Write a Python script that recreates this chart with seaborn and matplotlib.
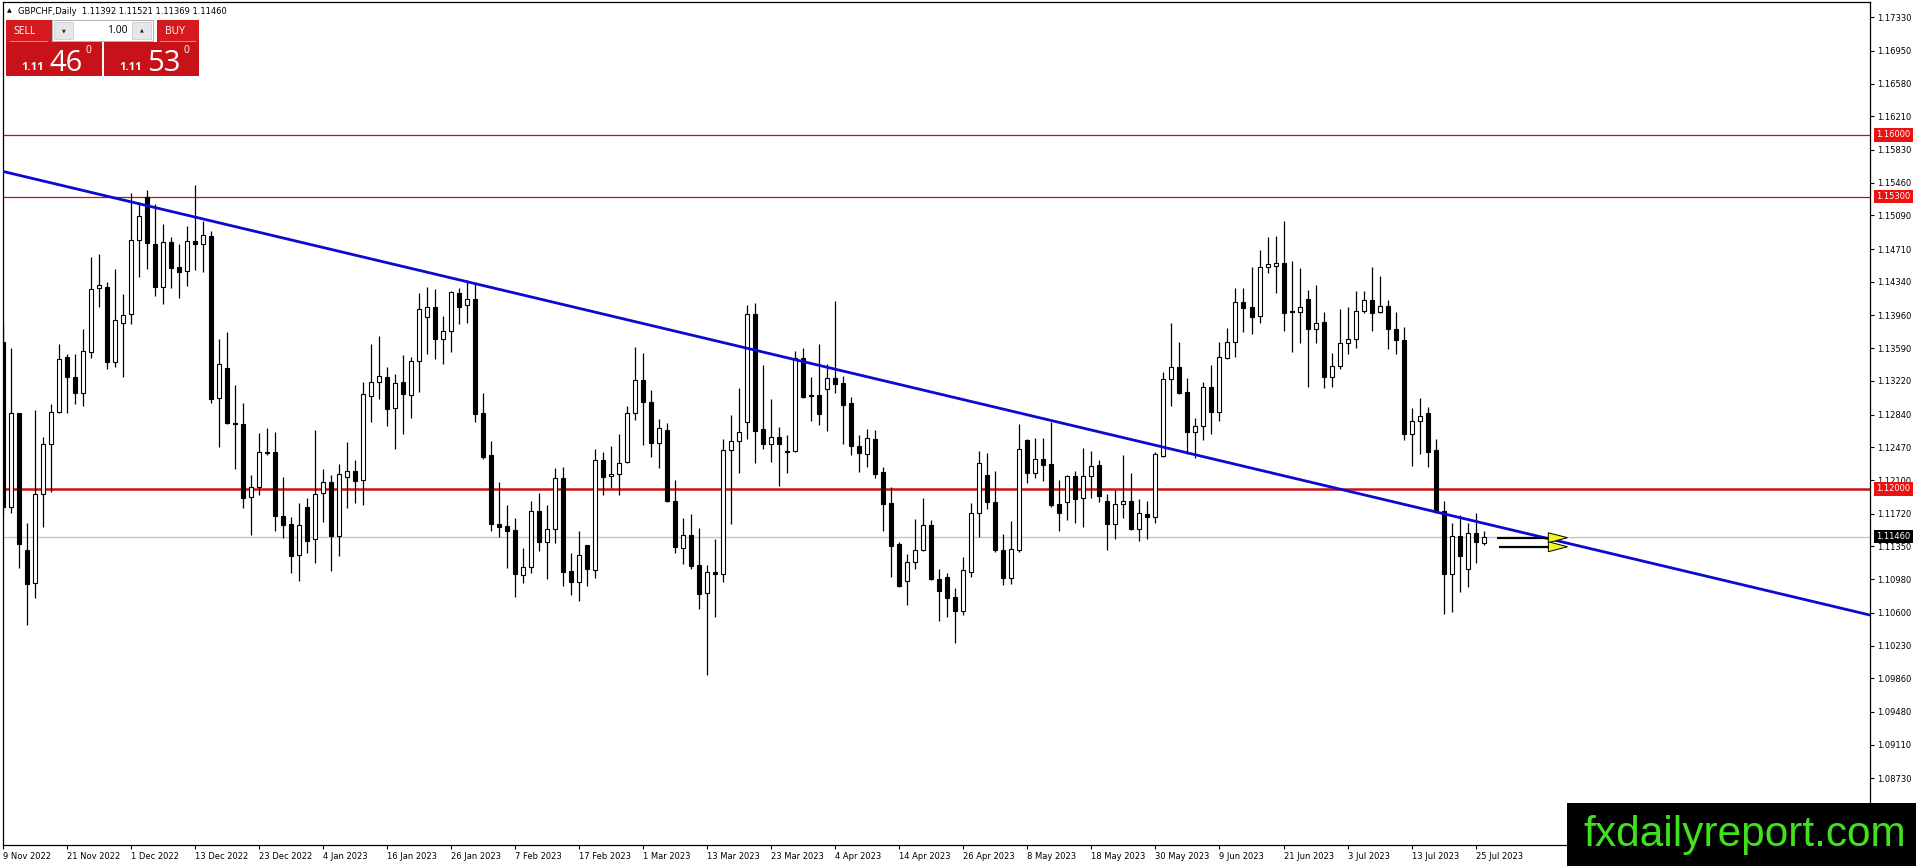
import numpy as np
import pandas as pd
import seaborn as sns
import matplotlib
matplotlib.use("Agg")
import matplotlib.pyplot as plt
from matplotlib.patches import Rectangle, Polygon
import matplotlib.transforms as mtransforms

# GBPCHF daily candles, 9 Nov 2022 .. 26 Jul 2023
opens = [
    1.1366, 1.1180, 1.1286, 1.1131, 1.1094, 1.1194, 1.1251, 1.1287, 1.1349, 1.1327,
    1.1308, 1.1355, 1.1427, 1.1428, 1.1343, 1.1388, 1.1398, 1.1481, 1.1530, 1.1477,
    1.1428, 1.1479, 1.1451, 1.1446, 1.1480, 1.1477, 1.1486, 1.1303, 1.1337, 1.1275,
    1.1273, 1.1191, 1.1202, 1.1242, 1.1242, 1.1169, 1.1160, 1.1125, 1.1180, 1.1143,
    1.1195, 1.1208, 1.1147, 1.1214, 1.1220, 1.1210, 1.1305, 1.1321, 1.1327, 1.1291,
    1.1321, 1.1306, 1.1345, 1.1394, 1.1406, 1.1369, 1.1378, 1.1421, 1.1408, 1.1415,
    1.1286, 1.1238, 1.1160, 1.1158, 1.1154, 1.1103, 1.1112, 1.1175, 1.1140, 1.1155,
    1.1212, 1.1107, 1.1095, 1.1137, 1.1108, 1.1233, 1.1215, 1.1217, 1.1230, 1.1286,
    1.1323, 1.1298, 1.1252, 1.1267, 1.1186, 1.1133, 1.1148, 1.1114, 1.1082, 1.1106,
    1.1104, 1.1244, 1.1254, 1.1276, 1.1398, 1.1268, 1.1251, 1.1259, 1.1243, 1.1243,
    1.1348, 1.1306, 1.1306, 1.1313, 1.1325, 1.1320, 1.1297, 1.1248, 1.1240, 1.1257,
    1.1219, 1.1184, 1.1138, 1.1096, 1.1117, 1.1131, 1.1159, 1.1098, 1.1100, 1.1078,
    1.1062, 1.1106, 1.1173, 1.1216, 1.1185, 1.1131, 1.1099, 1.1131, 1.1255, 1.1218,
    1.1234, 1.1228, 1.1183, 1.1185, 1.1215, 1.1190, 1.1215, 1.1227, 1.1186, 1.1160,
    1.1183, 1.1186, 1.1155, 1.1172, 1.1168, 1.1237, 1.1324, 1.1338, 1.1309, 1.1264,
    1.1271, 1.1315, 1.1287, 1.1348, 1.1366, 1.1411, 1.1406, 1.1395, 1.1451, 1.1452,
    1.1455, 1.1401, 1.1400, 1.1415, 1.1381, 1.1389, 1.1327, 1.1339, 1.1365, 1.1369,
    1.1401, 1.1414, 1.1400, 1.1407, 1.1381, 1.1368, 1.1262, 1.1277, 1.1286, 1.1244,
    1.1175, 1.1104, 1.1147, 1.1110, 1.1150, 1.11392,
]
highs = [
    1.1390, 1.1359, 1.1279, 1.1162, 1.1289, 1.1259, 1.1296, 1.1364, 1.1353, 1.1353,
    1.1381, 1.1462, 1.1466, 1.1434, 1.1449, 1.1420, 1.1534, 1.1524, 1.1538, 1.1522,
    1.1499, 1.1485, 1.1477, 1.1497, 1.1543, 1.1503, 1.1492, 1.1369, 1.1377, 1.1317,
    1.1297, 1.1216, 1.1263, 1.1269, 1.1264, 1.1214, 1.1168, 1.1184, 1.1190, 1.1267,
    1.1223, 1.1216, 1.1228, 1.1253, 1.1233, 1.1321, 1.1364, 1.1373, 1.1338, 1.1330,
    1.1351, 1.1349, 1.1421, 1.1428, 1.1426, 1.1395, 1.1424, 1.1427, 1.1436, 1.1433,
    1.1308, 1.1254, 1.1208, 1.1182, 1.1167, 1.1133, 1.1186, 1.1195, 1.1182, 1.1224,
    1.1225, 1.1128, 1.1152, 1.1137, 1.1245, 1.1242, 1.1249, 1.1262, 1.1294, 1.1360,
    1.1354, 1.1312, 1.1279, 1.1274, 1.1210, 1.1167, 1.1172, 1.1156, 1.1114, 1.1143,
    1.1256, 1.1283, 1.1314, 1.1408, 1.1410, 1.1340, 1.1302, 1.1270, 1.1261, 1.1356,
    1.1359, 1.1327, 1.1364, 1.1341, 1.1412, 1.1328, 1.1304, 1.1261, 1.1268, 1.1267,
    1.1225, 1.1202, 1.1140, 1.1127, 1.1166, 1.1190, 1.1165, 1.1110, 1.1105, 1.1088,
    1.1123, 1.1184, 1.1243, 1.1241, 1.1220, 1.1149, 1.1164, 1.1273, 1.1256, 1.1258,
    1.1258, 1.1276, 1.1210, 1.1216, 1.1220, 1.1246, 1.1243, 1.1233, 1.1194, 1.1199,
    1.1238, 1.1218, 1.1189, 1.1186, 1.1242, 1.1332, 1.1388, 1.1366, 1.1325, 1.1280,
    1.1321, 1.1340, 1.1366, 1.1382, 1.1427, 1.1427, 1.1451, 1.1470, 1.1485, 1.1486,
    1.1503, 1.1458, 1.1450, 1.1425, 1.1430, 1.1400, 1.1354, 1.1403, 1.1406, 1.1424,
    1.1424, 1.1451, 1.1441, 1.1414, 1.1400, 1.1383, 1.1292, 1.1303, 1.1293, 1.1256,
    1.1186, 1.1162, 1.1171, 1.1162, 1.1173, 1.11521,
]
lows = [
    1.1169, 1.1173, 1.1111, 1.1046, 1.1077, 1.1157, 1.1197, 1.1286, 1.1286, 1.1296,
    1.1294, 1.1348, 1.1406, 1.1336, 1.1338, 1.1327, 1.1386, 1.1440, 1.1449, 1.1418,
    1.1409, 1.1427, 1.1416, 1.1429, 1.1447, 1.1445, 1.1297, 1.1247, 1.1273, 1.1223,
    1.1179, 1.1148, 1.1193, 1.1238, 1.1152, 1.1145, 1.1105, 1.1096, 1.1128, 1.1116,
    1.1163, 1.1107, 1.1124, 1.1179, 1.1184, 1.1182, 1.1276, 1.1302, 1.1271, 1.1245,
    1.1262, 1.1280, 1.1310, 1.1353, 1.1347, 1.1341, 1.1355, 1.1386, 1.1388, 1.1276,
    1.1234, 1.1152, 1.1146, 1.1111, 1.1078, 1.1094, 1.1105, 1.1130, 1.1098, 1.1139,
    1.1090, 1.1080, 1.1073, 1.1090, 1.1099, 1.1193, 1.1201, 1.1193, 1.1229, 1.1278,
    1.1250, 1.1236, 1.1224, 1.1185, 1.1128, 1.1115, 1.1110, 1.1064, 1.0990, 1.1055,
    1.1095, 1.1160, 1.1218, 1.1256, 1.1229, 1.1245, 1.1230, 1.1203, 1.1218, 1.1242,
    1.1303, 1.1277, 1.1272, 1.1265, 1.1308, 1.1251, 1.1238, 1.1219, 1.1225, 1.1212,
    1.1153, 1.1100, 1.1089, 1.1069, 1.1110, 1.1130, 1.1097, 1.1051, 1.1055, 1.1026,
    1.1058, 1.1100, 1.1146, 1.1177, 1.1129, 1.1092, 1.1093, 1.1129, 1.1207, 1.1212,
    1.1209, 1.1180, 1.1153, 1.1165, 1.1162, 1.1157, 1.1190, 1.1185, 1.1131, 1.1143,
    1.1167, 1.1154, 1.1141, 1.1143, 1.1162, 1.1236, 1.1294, 1.1307, 1.1239, 1.1235,
    1.1255, 1.1262, 1.1277, 1.1347, 1.1349, 1.1377, 1.1375, 1.1388, 1.1444, 1.1421,
    1.1378, 1.1355, 1.1365, 1.1315, 1.1365, 1.1314, 1.1315, 1.1336, 1.1353, 1.1359,
    1.1399, 1.1378, 1.1399, 1.1358, 1.1353, 1.1255, 1.1226, 1.1239, 1.1225, 1.1173,
    1.1059, 1.1061, 1.1084, 1.1089, 1.1116, 1.11369,
]
closes = [
    1.1180, 1.1286, 1.1138, 1.1093, 1.1194, 1.1251, 1.1287, 1.1347, 1.1327, 1.1308,
    1.1356, 1.1426, 1.1430, 1.1343, 1.1391, 1.1397, 1.1481, 1.1508, 1.1478, 1.1428,
    1.1479, 1.1450, 1.1445, 1.1480, 1.1477, 1.1487, 1.1302, 1.1341, 1.1274, 1.1273,
    1.1190, 1.1202, 1.1242, 1.1241, 1.1169, 1.1159, 1.1124, 1.1159, 1.1141, 1.1194,
    1.1208, 1.1147, 1.1217, 1.1220, 1.1209, 1.1307, 1.1321, 1.1328, 1.1290, 1.1320,
    1.1307, 1.1345, 1.1403, 1.1406, 1.1369, 1.1378, 1.1423, 1.1406, 1.1415, 1.1285,
    1.1236, 1.1160, 1.1157, 1.1152, 1.1104, 1.1112, 1.1175, 1.1140, 1.1155, 1.1212,
    1.1106, 1.1095, 1.1125, 1.1110, 1.1233, 1.1214, 1.1217, 1.1229, 1.1286, 1.1323,
    1.1298, 1.1252, 1.1269, 1.1186, 1.1134, 1.1148, 1.1113, 1.1081, 1.1106, 1.1104,
    1.1244, 1.1254, 1.1264, 1.1398, 1.1265, 1.1251, 1.1259, 1.1251, 1.1242, 1.1348,
    1.1304, 1.1305, 1.1285, 1.1325, 1.1319, 1.1295, 1.1248, 1.1241, 1.1258, 1.1217,
    1.1183, 1.1135, 1.1090, 1.1117, 1.1131, 1.1159, 1.1098, 1.1085, 1.1077, 1.1062,
    1.1108, 1.1173, 1.1229, 1.1185, 1.1131, 1.1099, 1.1132, 1.1245, 1.1218, 1.1234,
    1.1227, 1.1182, 1.1173, 1.1215, 1.1189, 1.1215, 1.1226, 1.1192, 1.1160, 1.1183,
    1.1186, 1.1155, 1.1173, 1.1168, 1.1239, 1.1324, 1.1338, 1.1308, 1.1264, 1.1271,
    1.1315, 1.1287, 1.1349, 1.1366, 1.1411, 1.1404, 1.1394, 1.1451, 1.1454, 1.1455,
    1.1399, 1.1400, 1.1406, 1.1381, 1.1388, 1.1327, 1.1339, 1.1365, 1.1369, 1.1401,
    1.1414, 1.1399, 1.1407, 1.1381, 1.1368, 1.1262, 1.1277, 1.1282, 1.1242, 1.1174,
    1.1104, 1.1147, 1.1124, 1.1150, 1.1140, 1.11460,
]

# right price scale as printed by the terminal
price_ticks = [1.17330, 1.16950, 1.16580, 1.16210, 1.15830, 1.15460, 1.15090,
               1.14710, 1.14340, 1.13960, 1.13590, 1.13220, 1.12840, 1.12470,
               1.12100, 1.11720, 1.11350, 1.10980, 1.10600, 1.10230, 1.09860,
               1.09480, 1.09110, 1.08730]
levels = [1.16000, 1.15300, 1.12000]     # red horizontal lines
bid = 1.11460
# trendline anchors (bar index, price)
trend_pts = [(18, 1.1520), (180, 1.1172)]
# two arrows pointing right (bar from, bar to, price)
arrows = [(186.7, 195.5, 1.11449), (186.9, 195.5, 1.11347)]

header = "GBPCHF,Daily  1.11392 1.11521 1.11369 1.11460"
sell_px = ("1.11", "46", "0")
buy_px = ("1.11", "53", "0")

dates = pd.bdate_range("2022-11-09", periods=len(opens))
df = pd.DataFrame({"date": dates, "open": opens, "high": highs,
                   "low": lows, "close": closes})

sns.set_theme(style="white")
plt.rcParams["font.family"] = ["DejaVu Sans"]

W, H = 1916, 866
fig = plt.figure(figsize=(W / 100, H / 100), dpi=100)
fig.patch.set_facecolor("white")
ax = fig.add_axes([2.7 / W, 21 / H, 1867.3 / W, 843 / H])
ax.set_facecolor("white")

xlim = (-0.075, 233.3)
ax.set_xlim(*xlim)
ax.set_ylim(1.07977, 1.17502)

# horizontal levels
ax.axhline(levels[0], color="#c41010", lw=0.9, zorder=1)
ax.axhline(levels[1], color="#c41010", lw=0.9, zorder=1)
ax.axhline(levels[2], color="#cc1414", lw=1.8, zorder=1)
ax.axhline(bid, color="#c0c0c0", lw=0.9, zorder=1)

# candles
x = np.arange(len(df))
up = df["close"] >= df["open"]
ax.vlines(x, df["low"], df["high"], color="black", lw=0.9, zorder=2)
body_lo = df[["open", "close"]].min(axis=1)
body_h = (df["close"] - df["open"]).abs().clip(lower=0.00005)
ax.bar(x, body_h, bottom=body_lo, width=0.5,
       color=np.where(up, "white", "black"), edgecolor="black",
       linewidth=0.8, zorder=3)

# trendline extended across the chart
(x1, y1), (x2, y2) = trend_pts
slope = (y2 - y1) / (x2 - x1)
tx = np.array(xlim)
ty = y1 + slope * (tx - x1)
sns.lineplot(x=tx, y=ty, ax=ax, color="#0a0ad2", lw=2.0, zorder=4)

# arrows
for a0, a1, p in arrows:
    ax.plot([a0, a1 - 2.2], [p, p], color="black", lw=1.6, zorder=5,
            solid_capstyle="butt")
    tri = Polygon([[a1 - 2.4, p + 0.00056], [a1, p], [a1 - 2.4, p - 0.00056]],
                  closed=True, fc="#f5f51e", ec="black", lw=0.7, zorder=6)
    ax.add_patch(tri)

# axes styling
for s in ax.spines.values():
    s.set_color("black")
    s.set_linewidth(0.9)
ax.yaxis.tick_right()
ax.set_yticks(price_ticks)
ax.set_yticklabels([f"{v:.5f}" for v in price_ticks])
ax.tick_params(axis="y", direction="out", length=3, width=0.8, pad=2,
               labelsize=6, colors="black", right=True, left=False)
tick_idx = list(range(0, len(df), 8))
ax.set_xticks(tick_idx)
ax.set_xticklabels([f"{d.day} {d.strftime('%b %Y')}" for d in df["date"].iloc[tick_idx]],
                   ha="left")
ax.tick_params(axis="x", direction="out", length=3, width=0.8, pad=2,
               labelsize=6, colors="black", bottom=True)
ax.grid(False)

# price tags on the right scale
trans = mtransforms.blended_transform_factory(ax.transAxes, ax.transData)
for lv in levels:
    ax.text(1.0035, lv, f"{lv:.5f}", transform=trans, ha="left", va="center",
            fontsize=6, color="white", zorder=10, clip_on=False,
            bbox=dict(boxstyle="square,pad=0.25", fc="#ee1111", ec="none"))
ax.text(1.0035, bid, f"{bid:.5f}", transform=trans, ha="left", va="center",
        fontsize=6, color="white", zorder=10, clip_on=False,
        bbox=dict(boxstyle="square,pad=0.25", fc="black", ec="none"))


# top-left panel, figure pixel coords (origin top-left)
def box(x0, y0, x1, y1, fc, ec="none", lw=0.0, z=20):
    r = Rectangle((x0 / W, 1 - y1 / H), (x1 - x0) / W, (y1 - y0) / H,
                  transform=fig.transFigure, fc=fc, ec=ec, lw=lw, zorder=z)
    fig.add_artist(r)


def txt(xp, yp, s, **kw):
    fig.text(xp / W, 1 - yp / H, s, zorder=25, **kw)


txt(7, 11, "\u25B2", fontsize=4.5, va="center", ha="left", color="black")
txt(18, 11, header, fontsize=6, va="center", ha="left", color="black")

box(6, 20, 52, 42, "#d41a1e")
box(10, 41.3, 48, 42, "#f08080", z=21)
box(52, 20, 153, 41, "white", ec="#b0b0b0", lw=0.7)
box(54, 22, 73, 39, "#e6e6e6", ec="#c8c8c8", lw=0.5, z=21)
box(132, 22, 151, 39, "#e6e6e6", ec="#c8c8c8", lw=0.5, z=21)
box(157, 20, 199, 42, "#d41a1e")
box(160, 41.3, 196, 42, "#f08080", z=21)
box(6, 42, 102, 76, "#c8121a")
box(104, 42, 199, 76, "#c8121a")
txt(25, 31, "SELL", fontsize=7.5, ha="center", va="center", color="white",
    family=["Open Sans", "DejaVu Sans"])
txt(175, 31, "BUY", fontsize=7.5, ha="center", va="center", color="white",
    family=["Open Sans", "DejaVu Sans"])
txt(63.5, 30.5, "\u25BC", fontsize=3.5, ha="center", va="center", color="#222222")
txt(141.5, 30, "\u25B2", fontsize=3.5, ha="center", va="center", color="#222222")
txt(128, 30.5, "1.00", fontsize=7.5, ha="right", va="center", color="black",
    family=["Open Sans", "DejaVu Sans"])
for (small, big, sup), xs in ((sell_px, 21), (buy_px, 119)):
    txt(xs, 70, small, fontsize=8, ha="left", va="baseline", color="white",
        weight="bold", family=["Open Sans", "DejaVu Sans"])
    txt(xs + 28, 71, big, fontsize=21, ha="left", va="baseline", color="white",
        family=["Open Sans", "DejaVu Sans"])
    txt(xs + 65, 53, sup, fontsize=7.5, ha="left", va="baseline", color="white",
        family=["Open Sans", "DejaVu Sans"])

# watermark
box(1567, 803, W, H, "black", z=30)
txt(1745, 846, "fxdailyreport.com", fontsize=30.5, ha="center", va="baseline",
    color="#3fe21c", family=["Liberation Sans", "DejaVu Sans"])
fig.texts[-1].set_zorder(31)

fig.savefig("out.png", dpi=100, facecolor="white")
